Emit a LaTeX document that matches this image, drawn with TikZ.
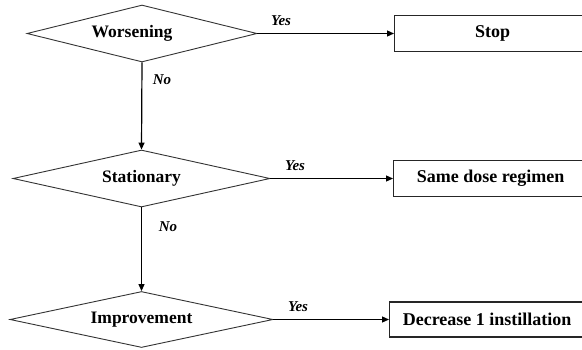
\documentclass[tikz,border=0pt]{standalone}
\usepackage{fontspec}
\setmainfont{Liberation Serif}
\usetikzlibrary{shapes.geometric,arrows.meta}
\tikzset{
  decision/.style={diamond, draw=black!80, line width=0.9pt, inner sep=0pt, shape aspect=4,
    font=\fontsize{17.5}{20}\selectfont\bfseries},
  dtext/.style={inner sep=0pt, font=\fontsize{17.5}{20}\selectfont\bfseries},
  outcome/.style={rectangle, draw=black!85, line width=1.3pt, minimum width=196pt, minimum height=36pt,
    inner sep=0pt, font=\fontsize{18}{21}\selectfont\bfseries},
  flow/.style={line width=1.2pt, -{Triangle[length=7pt,width=6pt]}},
  answer/.style={font=\fontsize{15}{17}\selectfont\bfseries\itshape, inner sep=0pt}
}
\begin{document}
\begin{tikzpicture}[x=1pt,y=-1pt]
\useasboundingbox[fill=white] (0,0) rectangle (582,349);
\node[decision, minimum width=230pt, minimum height=57pt] (d1) at (142,33.5) {};
\node[dtext] (t1) at (132,33.5) {Worsening};
\node[decision, minimum width=257pt, minimum height=57pt] (d2) at (141.5,178.5) {Stationary};
\node[decision, minimum width=263pt, minimum height=56pt] (d3) at (141.5,319.5) {Improvement};
\node[outcome, anchor=west] (b1) at (394,33.5) {Stop};
\node[outcome, anchor=west, minimum width=194pt] (b2) at (393,178.5) {Same dose regimen};
\node[outcome, anchor=west, minimum width=195pt, minimum height=35pt] (b3) at (389,319.5) {Decrease 1 instillation};
\draw[flow] (d1.east) -- (b1.west);
\draw[flow] (d2.east) -- (b2.west);
\draw[flow] (d3.east) -- (b3.west);
\draw[flow] (d1.south) -- (d2.north);
\draw[flow] (d2.south) -- (d3.north);
\node[answer] (y1) at (281,21) {Yes};
\node[answer] (y2) at (295,166) {Yes};
\node[answer] (y3) at (298,307) {Yes};
\node[answer] (n1) at (162,80) {No};
\node[answer] (n2) at (168,227) {No};
\end{tikzpicture}
\end{document}
